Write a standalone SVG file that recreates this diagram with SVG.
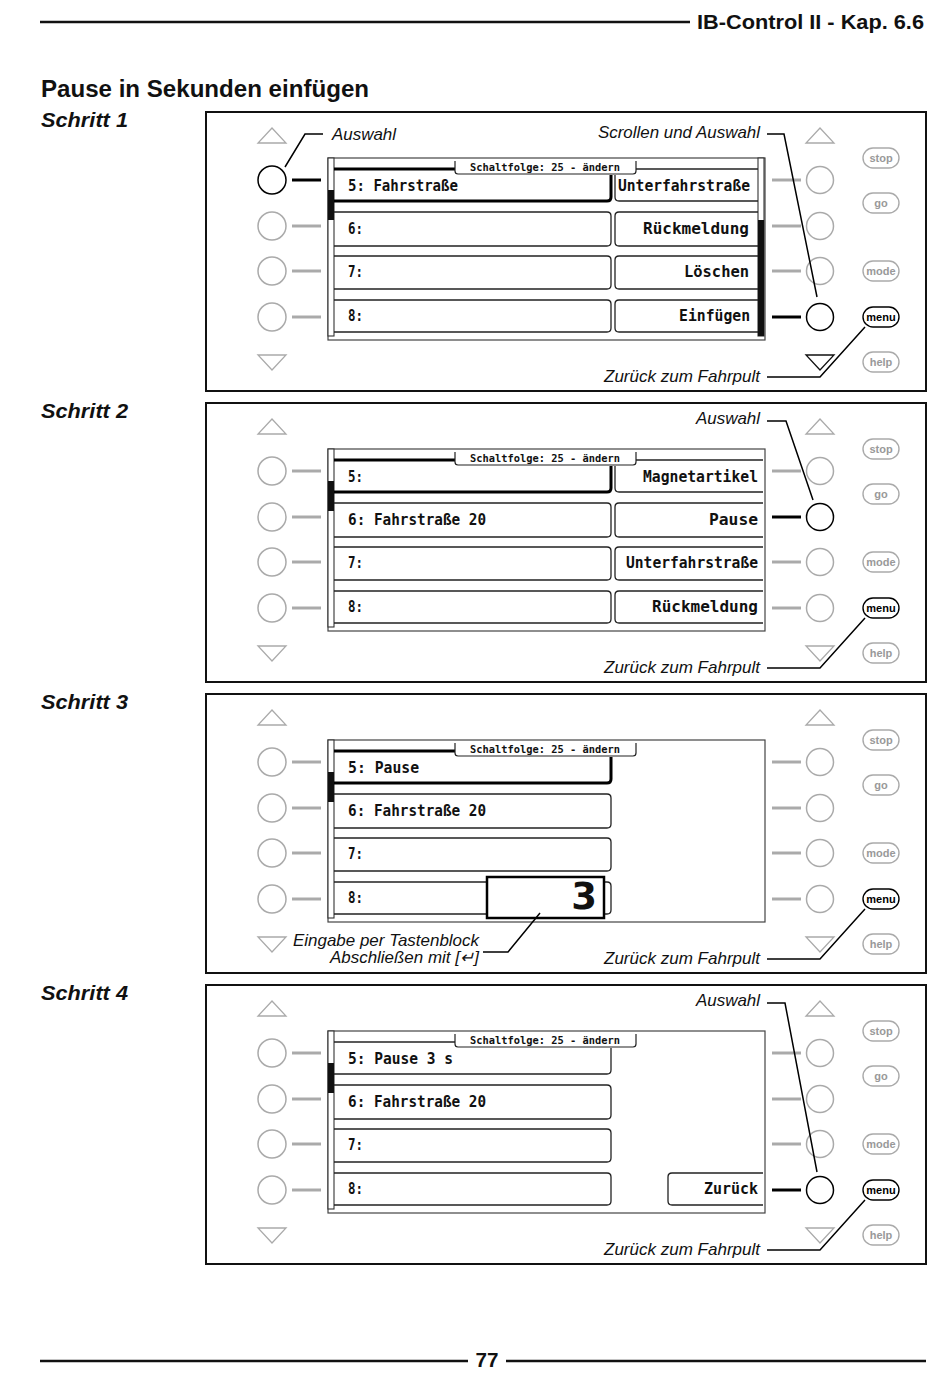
<svg xmlns="http://www.w3.org/2000/svg" width="950" height="1374" viewBox="0 0 950 1374">
<defs>
<style>
.panel{fill:none;stroke:#111;stroke-width:2}
.tri{fill:#fff;stroke:#aaa;stroke-width:1.3}
.tri.on{stroke:#111}
.key{fill:#fff;stroke:#aaa;stroke-width:1.5}
.key.on{stroke:#000}
.dash{stroke:#aaa;stroke-width:3}
.dash.on{stroke:#000}
.pill{fill:#fff;stroke:#aaa;stroke-width:1.4}
.pill.on{stroke:#000}
.ptxt{font-family:"Liberation Sans",Arial,sans-serif;font-weight:bold;font-size:11px;fill:#999;text-anchor:middle}
.ptxt.on{fill:#000}
.disp{fill:#fff;stroke:#444;stroke-width:1.2}
.sb{fill:#fff;stroke:#333;stroke-width:1.1}
.row{fill:none;stroke:#222;stroke-width:1.3}
.sel{fill:none;stroke:#000;stroke-width:3}
.tab{fill:#fff;stroke:#222;stroke-width:1.2}
.ttxt{font-family:"DejaVu Sans Mono",monospace;font-weight:bold;font-size:10.5px;fill:#111;text-anchor:middle}
.lcd{font-family:"DejaVu Sans Mono",monospace;font-weight:bold;font-size:16px;fill:#111}
.lcd.r{text-anchor:end}
.lbl{font-family:"Liberation Sans",Arial,sans-serif;font-style:italic;font-size:16.5px;fill:#111}
.lbl.r{text-anchor:end}
.lead{fill:none;stroke:#000;stroke-width:1.5}
.hd{font-family:"Liberation Sans",Arial,sans-serif;font-weight:bold;fill:#111}
.rule{stroke:#111;stroke-width:2.5}
</style>
</defs>

<g id="page-header">
<line class="rule" x1="40" y1="22" x2="690" y2="22"/>
<text class="hd" x="697" y="29" font-size="20" textLength="227" lengthAdjust="spacingAndGlyphs">IB-Control II - Kap. 6.6</text>
<text class="hd" x="41" y="97" font-size="23" textLength="328" lengthAdjust="spacingAndGlyphs">Pause in Sekunden einfügen</text>
</g>

<g id="step-titles">
<text class="hd" x="41" y="127" font-size="20" font-style="italic" textLength="87" lengthAdjust="spacingAndGlyphs">Schritt 1</text>
<text class="hd" x="41" y="418" font-size="20" font-style="italic" textLength="87" lengthAdjust="spacingAndGlyphs">Schritt 2</text>
<text class="hd" x="41" y="709" font-size="20" font-style="italic" textLength="87" lengthAdjust="spacingAndGlyphs">Schritt 3</text>
<text class="hd" x="41" y="1000" font-size="20" font-style="italic" textLength="87" lengthAdjust="spacingAndGlyphs">Schritt 4</text>
</g>

<!-- ================= STEP 1 ================= -->
<g id="step1" transform="translate(0,112)">
<rect class="panel" x="206" y="0" width="720" height="279"/>
<g id="s1-left-keys">
<polygon class="tri" points="258,31 286,31 272,16"/>
<line class="dash on" x1="292" y1="68" x2="321" y2="68"/><circle class="key on" cx="272" cy="68" r="14"/>
<line class="dash" x1="292" y1="114" x2="321" y2="114"/><circle class="key" cx="272" cy="114" r="14"/>
<line class="dash" x1="292" y1="159" x2="321" y2="159"/><circle class="key" cx="272" cy="159" r="14"/>
<line class="dash" x1="292" y1="205" x2="321" y2="205"/><circle class="key" cx="272" cy="205" r="14"/>
<polygon class="tri" points="258,243 286,243 272,258"/>
</g>
<g id="s1-display">
<rect class="disp" x="328" y="46" width="437" height="182"/>
<rect class="sb" x="328" y="46" width="6" height="178"/>
<rect x="328" y="78" width="6" height="30" fill="#111"/>
<rect class="sb" x="758" y="46" width="6" height="178"/>
<rect x="758" y="108" width="6" height="116" fill="#111"/>
<line class="sel" x1="334" y1="57" x2="456" y2="57"/>
<line class="row" x1="636" y1="57" x2="758" y2="57"/>
<path class="tab" d="M455,49 V59 Q455,62 458,62 H633 Q636,62 636,59 V49"/>
<text class="ttxt" x="545" y="59" textLength="150" lengthAdjust="spacingAndGlyphs">Schaltfolge: 25 - ändern</text>
<path class="sel" d="M611,63 V85 Q611,89 607,89 H334"/>
<path class="row" d="M334,100 H607 Q611,100 611,104 V130 Q611,134 607,134 H334"/>
<path class="row" d="M334,144 H607 Q611,144 611,148 V173 Q611,177 607,177 H334"/>
<path class="row" d="M334,188 H607 Q611,188 611,192 V216 Q611,220 607,220 H334"/>
<path class="row" d="M615,63 V85 Q615,89 619,89 H758"/>
<path class="row" d="M758,100 H619 Q615,100 615,104 V130 Q615,134 619,134 H758"/>
<path class="row" d="M758,144 H619 Q615,144 615,148 V173 Q615,177 619,177 H758"/>
<path class="row" d="M758,188 H619 Q615,188 615,192 V216 Q615,220 619,220 H758"/>
<text class="lcd" x="348" y="79" textLength="110" lengthAdjust="spacingAndGlyphs">5: Fahrstraße</text>
<text class="lcd" x="348" y="122" textLength="15" lengthAdjust="spacingAndGlyphs">6:</text>
<text class="lcd" x="348" y="165" textLength="15" lengthAdjust="spacingAndGlyphs">7:</text>
<text class="lcd" x="348" y="209" textLength="15" lengthAdjust="spacingAndGlyphs">8:</text>
<text class="lcd r" x="750" y="79" textLength="132" lengthAdjust="spacingAndGlyphs">Unterfahrstraße</text>
<text class="lcd r" x="749" y="122" textLength="106" lengthAdjust="spacingAndGlyphs">Rückmeldung</text>
<text class="lcd r" x="749" y="165" textLength="65" lengthAdjust="spacingAndGlyphs">Löschen</text>
<text class="lcd r" x="750" y="209" textLength="71" lengthAdjust="spacingAndGlyphs">Einfügen</text>
</g>
<g id="s1-right-keys">
<polygon class="tri" points="806,31 834,31 820,16"/>
<line class="dash" x1="772" y1="68" x2="801" y2="68"/><circle class="key" cx="820" cy="68" r="13.5"/>
<line class="dash" x1="772" y1="114" x2="801" y2="114"/><circle class="key" cx="820" cy="114" r="13.5"/>
<line class="dash" x1="772" y1="159" x2="801" y2="159"/><circle class="key" cx="820" cy="159" r="13.5"/>
<line class="dash on" x1="772" y1="205" x2="801" y2="205"/><circle class="key on" cx="820" cy="205" r="13.5"/>
<polygon class="tri on" points="806,243 834,243 820,258"/>
</g>
<g id="s1-func-keys">
<rect class="pill" x="863" y="36" width="36" height="20" rx="10"/><text class="ptxt" x="881" y="50">stop</text>
<rect class="pill" x="863" y="81" width="36" height="20" rx="10"/><text class="ptxt" x="881" y="95">go</text>
<rect class="pill" x="863" y="149" width="36" height="20" rx="10"/><text class="ptxt" x="881" y="163">mode</text>
<rect class="pill on" x="863" y="195" width="36" height="20" rx="10"/><text class="ptxt on" x="881" y="209">menu</text>
<rect class="pill" x="863" y="240" width="36" height="20" rx="10"/><text class="ptxt" x="881" y="254">help</text>
</g>
<g id="s1-labels">
<text class="lbl" x="332" y="28" textLength="64" lengthAdjust="spacingAndGlyphs">Auswahl</text>
<text class="lbl r" x="760" y="26" textLength="162" lengthAdjust="spacingAndGlyphs">Scrollen und Auswahl</text>
<text class="lbl r" x="760" y="270" textLength="156" lengthAdjust="spacingAndGlyphs">Zurück zum Fahrpult</text>
</g>
</g>

<!-- ================= STEP 2 ================= -->
<g id="step2" transform="translate(0,403)">
<rect class="panel" x="206" y="0" width="720" height="279"/>
<g id="s2-left-keys">
<polygon class="tri" points="258,31 286,31 272,16"/>
<line class="dash" x1="292" y1="68" x2="321" y2="68"/><circle class="key" cx="272" cy="68" r="14"/>
<line class="dash" x1="292" y1="114" x2="321" y2="114"/><circle class="key" cx="272" cy="114" r="14"/>
<line class="dash" x1="292" y1="159" x2="321" y2="159"/><circle class="key" cx="272" cy="159" r="14"/>
<line class="dash" x1="292" y1="205" x2="321" y2="205"/><circle class="key" cx="272" cy="205" r="14"/>
<polygon class="tri" points="258,243 286,243 272,258"/>
</g>
<g id="s2-display">
<rect class="disp" x="328" y="46" width="437" height="182"/>
<rect class="sb" x="328" y="46" width="6" height="178"/>
<rect x="328" y="78" width="6" height="30" fill="#111"/>
<line class="sel" x1="334" y1="57" x2="456" y2="57"/>
<line class="row" x1="636" y1="57" x2="763" y2="57"/>
<path class="tab" d="M455,49 V59 Q455,62 458,62 H633 Q636,62 636,59 V49"/>
<text class="ttxt" x="545" y="59" textLength="150" lengthAdjust="spacingAndGlyphs">Schaltfolge: 25 - ändern</text>
<path class="sel" d="M611,63 V85 Q611,89 607,89 H334"/>
<path class="row" d="M334,100 H607 Q611,100 611,104 V130 Q611,134 607,134 H334"/>
<path class="row" d="M334,144 H607 Q611,144 611,148 V173 Q611,177 607,177 H334"/>
<path class="row" d="M334,188 H607 Q611,188 611,192 V216 Q611,220 607,220 H334"/>
<path class="row" d="M615,63 V85 Q615,89 619,89 H763"/>
<path class="row" d="M763,100 H619 Q615,100 615,104 V130 Q615,134 619,134 H763"/>
<path class="row" d="M763,144 H619 Q615,144 615,148 V173 Q615,177 619,177 H763"/>
<path class="row" d="M763,188 H619 Q615,188 615,192 V216 Q615,220 619,220 H763"/>
<text class="lcd" x="348" y="79" textLength="15" lengthAdjust="spacingAndGlyphs">5:</text>
<text class="lcd" x="348" y="122" textLength="138" lengthAdjust="spacingAndGlyphs">6: Fahrstraße 20</text>
<text class="lcd" x="348" y="165" textLength="15" lengthAdjust="spacingAndGlyphs">7:</text>
<text class="lcd" x="348" y="209" textLength="15" lengthAdjust="spacingAndGlyphs">8:</text>
<text class="lcd r" x="758" y="79" textLength="115" lengthAdjust="spacingAndGlyphs">Magnetartikel</text>
<text class="lcd r" x="758" y="122" textLength="49" lengthAdjust="spacingAndGlyphs">Pause</text>
<text class="lcd r" x="758" y="165" textLength="132" lengthAdjust="spacingAndGlyphs">Unterfahrstraße</text>
<text class="lcd r" x="758" y="209" textLength="106" lengthAdjust="spacingAndGlyphs">Rückmeldung</text>
</g>
<g id="s2-right-keys">
<polygon class="tri" points="806,31 834,31 820,16"/>
<line class="dash" x1="772" y1="68" x2="801" y2="68"/><circle class="key" cx="820" cy="68" r="13.5"/>
<line class="dash on" x1="772" y1="114" x2="801" y2="114"/><circle class="key on" cx="820" cy="114" r="13.5"/>
<line class="dash" x1="772" y1="159" x2="801" y2="159"/><circle class="key" cx="820" cy="159" r="13.5"/>
<line class="dash" x1="772" y1="205" x2="801" y2="205"/><circle class="key" cx="820" cy="205" r="13.5"/>
<polygon class="tri" points="806,243 834,243 820,258"/>
</g>
<g id="s2-func-keys">
<rect class="pill" x="863" y="36" width="36" height="20" rx="10"/><text class="ptxt" x="881" y="50">stop</text>
<rect class="pill" x="863" y="81" width="36" height="20" rx="10"/><text class="ptxt" x="881" y="95">go</text>
<rect class="pill" x="863" y="149" width="36" height="20" rx="10"/><text class="ptxt" x="881" y="163">mode</text>
<rect class="pill on" x="863" y="195" width="36" height="20" rx="10"/><text class="ptxt on" x="881" y="209">menu</text>
<rect class="pill" x="863" y="240" width="36" height="20" rx="10"/><text class="ptxt" x="881" y="254">help</text>
</g>
<g id="s2-labels">
<text class="lbl r" x="760" y="21" textLength="64" lengthAdjust="spacingAndGlyphs">Auswahl</text>
<text class="lbl r" x="760" y="270" textLength="156" lengthAdjust="spacingAndGlyphs">Zurück zum Fahrpult</text>
</g>
</g>

<!-- ================= STEP 3 ================= -->
<g id="step3" transform="translate(0,694)">
<rect class="panel" x="206" y="0" width="720" height="279"/>
<g id="s3-left-keys">
<polygon class="tri" points="258,31 286,31 272,16"/>
<line class="dash" x1="292" y1="68" x2="321" y2="68"/><circle class="key" cx="272" cy="68" r="14"/>
<line class="dash" x1="292" y1="114" x2="321" y2="114"/><circle class="key" cx="272" cy="114" r="14"/>
<line class="dash" x1="292" y1="159" x2="321" y2="159"/><circle class="key" cx="272" cy="159" r="14"/>
<line class="dash" x1="292" y1="205" x2="321" y2="205"/><circle class="key" cx="272" cy="205" r="14"/>
<polygon class="tri" points="258,243 286,243 272,258"/>
</g>
<g id="s3-display">
<rect class="disp" x="328" y="46" width="437" height="182"/>
<rect class="sb" x="328" y="46" width="6" height="178"/>
<rect x="328" y="78" width="6" height="30" fill="#111"/>
<line class="sel" x1="334" y1="57" x2="456" y2="57"/>
<path class="tab" d="M455,49 V59 Q455,62 458,62 H633 Q636,62 636,59 V49"/>
<text class="ttxt" x="545" y="59" textLength="150" lengthAdjust="spacingAndGlyphs">Schaltfolge: 25 - ändern</text>
<path class="sel" d="M611,63 V85 Q611,89 607,89 H334"/>
<path class="row" d="M334,100 H607 Q611,100 611,104 V130 Q611,134 607,134 H334"/>
<path class="row" d="M334,144 H607 Q611,144 611,148 V173 Q611,177 607,177 H334"/>
<path class="row" d="M334,188 H607 Q611,188 611,192 V216 Q611,220 607,220 H334"/>
<text class="lcd" x="348" y="79" textLength="71" lengthAdjust="spacingAndGlyphs">5: Pause</text>
<text class="lcd" x="348" y="122" textLength="138" lengthAdjust="spacingAndGlyphs">6: Fahrstraße 20</text>
<text class="lcd" x="348" y="165" textLength="15" lengthAdjust="spacingAndGlyphs">7:</text>
<text class="lcd" x="348" y="209" textLength="15" lengthAdjust="spacingAndGlyphs">8:</text>
<g id="s3-input">
<rect x="487" y="183" width="117" height="41" fill="#fff" stroke="#000" stroke-width="2.5"/>
<text x="597" y="215" font-family="DejaVu Sans,sans-serif" font-weight="bold" font-size="37" fill="#111" text-anchor="end">3</text>
</g>
</g>
<g id="s3-right-keys">
<polygon class="tri" points="806,31 834,31 820,16"/>
<line class="dash" x1="772" y1="68" x2="801" y2="68"/><circle class="key" cx="820" cy="68" r="13.5"/>
<line class="dash" x1="772" y1="114" x2="801" y2="114"/><circle class="key" cx="820" cy="114" r="13.5"/>
<line class="dash" x1="772" y1="159" x2="801" y2="159"/><circle class="key" cx="820" cy="159" r="13.5"/>
<line class="dash" x1="772" y1="205" x2="801" y2="205"/><circle class="key" cx="820" cy="205" r="13.5"/>
<polygon class="tri" points="806,243 834,243 820,258"/>
</g>
<g id="s3-func-keys">
<rect class="pill" x="863" y="36" width="36" height="20" rx="10"/><text class="ptxt" x="881" y="50">stop</text>
<rect class="pill" x="863" y="81" width="36" height="20" rx="10"/><text class="ptxt" x="881" y="95">go</text>
<rect class="pill" x="863" y="149" width="36" height="20" rx="10"/><text class="ptxt" x="881" y="163">mode</text>
<rect class="pill on" x="863" y="195" width="36" height="20" rx="10"/><text class="ptxt on" x="881" y="209">menu</text>
<rect class="pill" x="863" y="240" width="36" height="20" rx="10"/><text class="ptxt" x="881" y="254">help</text>
</g>
<g id="s3-labels">
<text class="lbl" x="293" y="252" textLength="186" lengthAdjust="spacingAndGlyphs">Eingabe per Tastenblock</text>
<text class="lbl r" x="479" y="269" textLength="149" lengthAdjust="spacingAndGlyphs">Abschließen mit [↵]</text>
<text class="lbl r" x="760" y="270" textLength="156" lengthAdjust="spacingAndGlyphs">Zurück zum Fahrpult</text>
</g>
</g>

<!-- ================= STEP 4 ================= -->
<g id="step4" transform="translate(0,985)">
<rect class="panel" x="206" y="0" width="720" height="279"/>
<g id="s4-left-keys">
<polygon class="tri" points="258,31 286,31 272,16"/>
<line class="dash" x1="292" y1="68" x2="321" y2="68"/><circle class="key" cx="272" cy="68" r="14"/>
<line class="dash" x1="292" y1="114" x2="321" y2="114"/><circle class="key" cx="272" cy="114" r="14"/>
<line class="dash" x1="292" y1="159" x2="321" y2="159"/><circle class="key" cx="272" cy="159" r="14"/>
<line class="dash" x1="292" y1="205" x2="321" y2="205"/><circle class="key" cx="272" cy="205" r="14"/>
<polygon class="tri" points="258,243 286,243 272,258"/>
</g>
<g id="s4-display">
<rect class="disp" x="328" y="46" width="437" height="182"/>
<rect class="sb" x="328" y="46" width="6" height="178"/>
<rect x="328" y="78" width="6" height="30" fill="#111"/>
<line class="row" x1="334" y1="57" x2="456" y2="57"/>
<path class="tab" d="M455,49 V59 Q455,62 458,62 H633 Q636,62 636,59 V49"/>
<text class="ttxt" x="545" y="59" textLength="150" lengthAdjust="spacingAndGlyphs">Schaltfolge: 25 - ändern</text>
<path class="row" d="M611,63 V85 Q611,89 607,89 H334"/>
<path class="row" d="M334,100 H607 Q611,100 611,104 V130 Q611,134 607,134 H334"/>
<path class="row" d="M334,144 H607 Q611,144 611,148 V173 Q611,177 607,177 H334"/>
<path class="row" d="M334,188 H607 Q611,188 611,192 V216 Q611,220 607,220 H334"/>
<path class="row" d="M763,188 H672 Q668,188 668,192 V216 Q668,220 672,220 H763"/>
<text class="lcd" x="348" y="79" textLength="105" lengthAdjust="spacingAndGlyphs">5: Pause 3 s</text>
<text class="lcd" x="348" y="122" textLength="138" lengthAdjust="spacingAndGlyphs">6: Fahrstraße 20</text>
<text class="lcd" x="348" y="165" textLength="15" lengthAdjust="spacingAndGlyphs">7:</text>
<text class="lcd" x="348" y="209" textLength="15" lengthAdjust="spacingAndGlyphs">8:</text>
<text class="lcd r" x="758" y="209" textLength="54" lengthAdjust="spacingAndGlyphs">Zurück</text>
</g>
<g id="s4-right-keys">
<polygon class="tri" points="806,31 834,31 820,16"/>
<line class="dash" x1="772" y1="68" x2="801" y2="68"/><circle class="key" cx="820" cy="68" r="13.5"/>
<line class="dash" x1="772" y1="114" x2="801" y2="114"/><circle class="key" cx="820" cy="114" r="13.5"/>
<line class="dash" x1="772" y1="159" x2="801" y2="159"/><circle class="key" cx="820" cy="159" r="13.5"/>
<line class="dash on" x1="772" y1="205" x2="801" y2="205"/><circle class="key on" cx="820" cy="205" r="13.5"/>
<polygon class="tri" points="806,243 834,243 820,258"/>
</g>
<g id="s4-func-keys">
<rect class="pill" x="863" y="36" width="36" height="20" rx="10"/><text class="ptxt" x="881" y="50">stop</text>
<rect class="pill" x="863" y="81" width="36" height="20" rx="10"/><text class="ptxt" x="881" y="95">go</text>
<rect class="pill" x="863" y="149" width="36" height="20" rx="10"/><text class="ptxt" x="881" y="163">mode</text>
<rect class="pill on" x="863" y="195" width="36" height="20" rx="10"/><text class="ptxt on" x="881" y="209">menu</text>
<rect class="pill" x="863" y="240" width="36" height="20" rx="10"/><text class="ptxt" x="881" y="254">help</text>
</g>
<g id="s4-labels">
<text class="lbl r" x="760" y="21" textLength="64" lengthAdjust="spacingAndGlyphs">Auswahl</text>
<text class="lbl r" x="760" y="270" textLength="156" lengthAdjust="spacingAndGlyphs">Zurück zum Fahrpult</text>
</g>
</g>

<!-- ================= CONNECTORS ================= -->
<g id="connectors">
<g transform="translate(0,112)">
<path class="lead" d="M323,22 H305 L285,55"/>
<path class="lead" d="M767,22 H784 L817,185"/>
<path class="lead" d="M767,265 H820 L865,215"/>
</g>
<g transform="translate(0,403)">
<path class="lead" d="M767,18 H786 L813,97"/>
<path class="lead" d="M767,265 H820 L865,215"/>
</g>
<g transform="translate(0,694)">
<path class="lead" d="M483,258 H508 L540,219"/>
<path class="lead" d="M767,265 H820 L865,215"/>
</g>
<g transform="translate(0,985)">
<path class="lead" d="M767,18 H785 L817,187"/>
<path class="lead" d="M767,265 H820 L865,215"/>
</g>
</g>

<g id="page-footer">
<line class="rule" x1="40" y1="1361" x2="468" y2="1361"/>
<line class="rule" x1="506" y1="1361" x2="926" y2="1361"/>
<text class="hd" x="487" y="1367" font-size="21" text-anchor="middle" textLength="23" lengthAdjust="spacingAndGlyphs">77</text>
</g>
</svg>
